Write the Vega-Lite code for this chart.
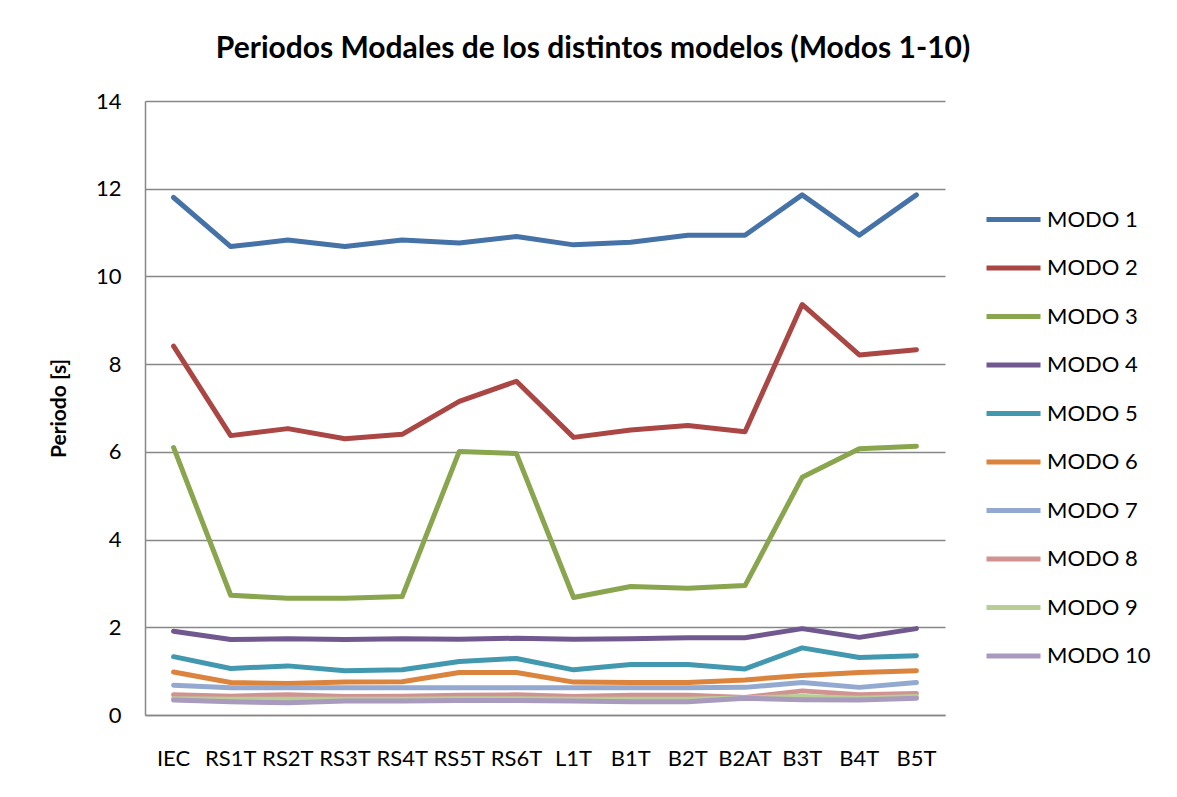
{
  "$schema": "https://vega.github.io/schema/vega-lite/v6.json",
  "width": 800,
  "height": 614,
  "autosize": "none",
  "padding": {"left": 145, "top": 101, "right": 232, "bottom": 82},
  "background": "white",
  "config": {
    "font": "Lato",
    "view": {"stroke": null},
    "axis": {"gridColor": "#878787", "gridWidth": 1.5, "domainColor": "#878787", "domainWidth": 1.5, "ticks": false, "labelColor": "#000000", "titleColor": "#000000"}
  },
  "title": {"text": "Periodos Modales de los distintos modelos (Modos 1-10)", "fontSize": 30, "fontWeight": "bold", "font": "Lato", "color": "#000000", "anchor": "middle", "dx": 48, "offset": 26},
  "data": {"values": [
    {"m": "IEC", "s": "MODO 1", "v": 11.8}, {"m": "RS1T", "s": "MODO 1", "v": 10.68}, {"m": "RS2T", "s": "MODO 1", "v": 10.83}, {"m": "RS3T", "s": "MODO 1", "v": 10.68}, {"m": "RS4T", "s": "MODO 1", "v": 10.83}, {"m": "RS5T", "s": "MODO 1", "v": 10.76}, {"m": "RS6T", "s": "MODO 1", "v": 10.91}, {"m": "L1T", "s": "MODO 1", "v": 10.72}, {"m": "B1T", "s": "MODO 1", "v": 10.78}, {"m": "B2T", "s": "MODO 1", "v": 10.94}, {"m": "B2AT", "s": "MODO 1", "v": 10.94}, {"m": "B3T", "s": "MODO 1", "v": 11.86}, {"m": "B4T", "s": "MODO 1", "v": 10.94}, {"m": "B5T", "s": "MODO 1", "v": 11.86},
    {"m": "IEC", "s": "MODO 2", "v": 8.41}, {"m": "RS1T", "s": "MODO 2", "v": 6.37}, {"m": "RS2T", "s": "MODO 2", "v": 6.53}, {"m": "RS3T", "s": "MODO 2", "v": 6.30}, {"m": "RS4T", "s": "MODO 2", "v": 6.40}, {"m": "RS5T", "s": "MODO 2", "v": 7.15}, {"m": "RS6T", "s": "MODO 2", "v": 7.61}, {"m": "L1T", "s": "MODO 2", "v": 6.33}, {"m": "B1T", "s": "MODO 2", "v": 6.50}, {"m": "B2T", "s": "MODO 2", "v": 6.60}, {"m": "B2AT", "s": "MODO 2", "v": 6.46}, {"m": "B3T", "s": "MODO 2", "v": 9.36}, {"m": "B4T", "s": "MODO 2", "v": 8.21}, {"m": "B5T", "s": "MODO 2", "v": 8.33},
    {"m": "IEC", "s": "MODO 3", "v": 6.1}, {"m": "RS1T", "s": "MODO 3", "v": 2.73}, {"m": "RS2T", "s": "MODO 3", "v": 2.66}, {"m": "RS3T", "s": "MODO 3", "v": 2.66}, {"m": "RS4T", "s": "MODO 3", "v": 2.70}, {"m": "RS5T", "s": "MODO 3", "v": 6.01}, {"m": "RS6T", "s": "MODO 3", "v": 5.96}, {"m": "L1T", "s": "MODO 3", "v": 2.68}, {"m": "B1T", "s": "MODO 3", "v": 2.93}, {"m": "B2T", "s": "MODO 3", "v": 2.89}, {"m": "B2AT", "s": "MODO 3", "v": 2.95}, {"m": "B3T", "s": "MODO 3", "v": 5.42}, {"m": "B4T", "s": "MODO 3", "v": 6.07}, {"m": "B5T", "s": "MODO 3", "v": 6.13},
    {"m": "IEC", "s": "MODO 4", "v": 1.91}, {"m": "RS1T", "s": "MODO 4", "v": 1.72}, {"m": "RS2T", "s": "MODO 4", "v": 1.74}, {"m": "RS3T", "s": "MODO 4", "v": 1.72}, {"m": "RS4T", "s": "MODO 4", "v": 1.74}, {"m": "RS5T", "s": "MODO 4", "v": 1.73}, {"m": "RS6T", "s": "MODO 4", "v": 1.75}, {"m": "L1T", "s": "MODO 4", "v": 1.73}, {"m": "B1T", "s": "MODO 4", "v": 1.74}, {"m": "B2T", "s": "MODO 4", "v": 1.76}, {"m": "B2AT", "s": "MODO 4", "v": 1.76}, {"m": "B3T", "s": "MODO 4", "v": 1.97}, {"m": "B4T", "s": "MODO 4", "v": 1.77}, {"m": "B5T", "s": "MODO 4", "v": 1.97},
    {"m": "IEC", "s": "MODO 5", "v": 1.33}, {"m": "RS1T", "s": "MODO 5", "v": 1.06}, {"m": "RS2T", "s": "MODO 5", "v": 1.12}, {"m": "RS3T", "s": "MODO 5", "v": 1.01}, {"m": "RS4T", "s": "MODO 5", "v": 1.03}, {"m": "RS5T", "s": "MODO 5", "v": 1.22}, {"m": "RS6T", "s": "MODO 5", "v": 1.29}, {"m": "L1T", "s": "MODO 5", "v": 1.03}, {"m": "B1T", "s": "MODO 5", "v": 1.15}, {"m": "B2T", "s": "MODO 5", "v": 1.15}, {"m": "B2AT", "s": "MODO 5", "v": 1.05}, {"m": "B3T", "s": "MODO 5", "v": 1.53}, {"m": "B4T", "s": "MODO 5", "v": 1.31}, {"m": "B5T", "s": "MODO 5", "v": 1.35},
    {"m": "IEC", "s": "MODO 6", "v": 0.98}, {"m": "RS1T", "s": "MODO 6", "v": 0.74}, {"m": "RS2T", "s": "MODO 6", "v": 0.72}, {"m": "RS3T", "s": "MODO 6", "v": 0.75}, {"m": "RS4T", "s": "MODO 6", "v": 0.76}, {"m": "RS5T", "s": "MODO 6", "v": 0.97}, {"m": "RS6T", "s": "MODO 6", "v": 0.97}, {"m": "L1T", "s": "MODO 6", "v": 0.75}, {"m": "B1T", "s": "MODO 6", "v": 0.74}, {"m": "B2T", "s": "MODO 6", "v": 0.74}, {"m": "B2AT", "s": "MODO 6", "v": 0.80}, {"m": "B3T", "s": "MODO 6", "v": 0.90}, {"m": "B4T", "s": "MODO 6", "v": 0.97}, {"m": "B5T", "s": "MODO 6", "v": 1.01},
    {"m": "IEC", "s": "MODO 7", "v": 0.68}, {"m": "RS1T", "s": "MODO 7", "v": 0.62}, {"m": "RS2T", "s": "MODO 7", "v": 0.62}, {"m": "RS3T", "s": "MODO 7", "v": 0.62}, {"m": "RS4T", "s": "MODO 7", "v": 0.62}, {"m": "RS5T", "s": "MODO 7", "v": 0.62}, {"m": "RS6T", "s": "MODO 7", "v": 0.62}, {"m": "L1T", "s": "MODO 7", "v": 0.62}, {"m": "B1T", "s": "MODO 7", "v": 0.62}, {"m": "B2T", "s": "MODO 7", "v": 0.62}, {"m": "B2AT", "s": "MODO 7", "v": 0.63}, {"m": "B3T", "s": "MODO 7", "v": 0.74}, {"m": "B4T", "s": "MODO 7", "v": 0.63}, {"m": "B5T", "s": "MODO 7", "v": 0.74},
    {"m": "IEC", "s": "MODO 8", "v": 0.46}, {"m": "RS1T", "s": "MODO 8", "v": 0.43}, {"m": "RS2T", "s": "MODO 8", "v": 0.46}, {"m": "RS3T", "s": "MODO 8", "v": 0.42}, {"m": "RS4T", "s": "MODO 8", "v": 0.43}, {"m": "RS5T", "s": "MODO 8", "v": 0.45}, {"m": "RS6T", "s": "MODO 8", "v": 0.46}, {"m": "L1T", "s": "MODO 8", "v": 0.42}, {"m": "B1T", "s": "MODO 8", "v": 0.45}, {"m": "B2T", "s": "MODO 8", "v": 0.45}, {"m": "B2AT", "s": "MODO 8", "v": 0.40}, {"m": "B3T", "s": "MODO 8", "v": 0.55}, {"m": "B4T", "s": "MODO 8", "v": 0.46}, {"m": "B5T", "s": "MODO 8", "v": 0.49},
    {"m": "IEC", "s": "MODO 9", "v": 0.37}, {"m": "RS1T", "s": "MODO 9", "v": 0.36}, {"m": "RS2T", "s": "MODO 9", "v": 0.36}, {"m": "RS3T", "s": "MODO 9", "v": 0.36}, {"m": "RS4T", "s": "MODO 9", "v": 0.36}, {"m": "RS5T", "s": "MODO 9", "v": 0.37}, {"m": "RS6T", "s": "MODO 9", "v": 0.37}, {"m": "L1T", "s": "MODO 9", "v": 0.36}, {"m": "B1T", "s": "MODO 9", "v": 0.36}, {"m": "B2T", "s": "MODO 9", "v": 0.36}, {"m": "B2AT", "s": "MODO 9", "v": 0.39}, {"m": "B3T", "s": "MODO 9", "v": 0.42}, {"m": "B4T", "s": "MODO 9", "v": 0.38}, {"m": "B5T", "s": "MODO 9", "v": 0.42},
    {"m": "IEC", "s": "MODO 10", "v": 0.34}, {"m": "RS1T", "s": "MODO 10", "v": 0.30}, {"m": "RS2T", "s": "MODO 10", "v": 0.28}, {"m": "RS3T", "s": "MODO 10", "v": 0.32}, {"m": "RS4T", "s": "MODO 10", "v": 0.32}, {"m": "RS5T", "s": "MODO 10", "v": 0.33}, {"m": "RS6T", "s": "MODO 10", "v": 0.33}, {"m": "L1T", "s": "MODO 10", "v": 0.32}, {"m": "B1T", "s": "MODO 10", "v": 0.30}, {"m": "B2T", "s": "MODO 10", "v": 0.30}, {"m": "B2AT", "s": "MODO 10", "v": 0.38}, {"m": "B3T", "s": "MODO 10", "v": 0.35}, {"m": "B4T", "s": "MODO 10", "v": 0.34}, {"m": "B5T", "s": "MODO 10", "v": 0.38}
  ]},
  "mark": {"type": "line", "strokeWidth": 5, "strokeCap": "round", "strokeJoin": "round"},
  "encoding": {
    "x": {"field": "m", "type": "nominal", "sort": null, "scale": {"type": "band", "paddingInner": 0, "paddingOuter": 0},
      "axis": {"title": null, "labelAngle": 0, "labelFontSize": 22, "labelPadding": 33, "grid": false, "domain": true}},
    "y": {"field": "v", "type": "quantitative", "scale": {"domain": [0, 14]},
      "axis": {"title": "Periodo [s]", "titleFontSize": 21, "titleFontWeight": "bold", "titlePadding": 26, "values": [0, 2, 4, 6, 8, 10, 12, 14], "labelFontSize": 22, "labelPadding": 24, "grid": true, "domain": true}},
    "color": {"field": "s", "type": "nominal", "sort": null,
      "scale": {"domain": ["MODO 1", "MODO 2", "MODO 3", "MODO 4", "MODO 5", "MODO 6", "MODO 7", "MODO 8", "MODO 9", "MODO 10"],
        "range": ["#4572A7", "#AA4643", "#89A54E", "#71588F", "#4198AF", "#DB843D", "#93A9CF", "#D19392", "#B9CD96", "#A99BBD"]},
      "legend": {"title": null, "orient": "none", "legendX": 839, "legendY": 89, "symbolType": "stroke", "symbolSize": 2916, "symbolStrokeWidth": 5, "labelFontSize": 22, "labelColor": "#000000", "rowPadding": 7.5, "labelOffset": 4}}
  }
}
